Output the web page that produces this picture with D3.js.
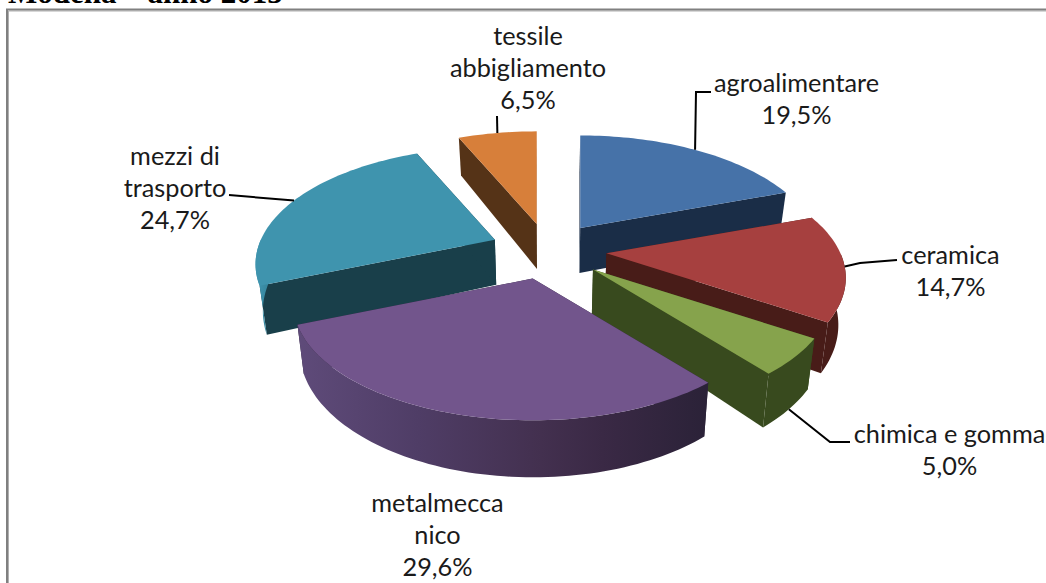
<!DOCTYPE html>
<html><head><meta charset="utf-8">
<script src="https://cdn.jsdelivr.net/npm/d3@7"></script>
<style>html,body{margin:0;padding:0;background:#fff;overflow:hidden}svg{display:block}</style>
</head><body><svg id="c" width="1046" height="583"></svg>
<script>
const categories = ["agroalimentare","ceramica","chimica e gomma","metalmeccanico","mezzi di trasporto","tessile abbigliamento"];
const shares = [19.5,14.7,5.0,29.6,24.7,6.5];
const valueLabels = ["19,5%","14,7%","5,0%","29,6%","24,7%","6,5%"];
const labelLines = [["agroalimentare"],["ceramica"],["chimica e gomma"],["metalmecca","nico"],["mezzi di","trasporto"],["tessile","abbigliamento"]];
const topColors = ["#4672a8","#a6403f","#86a34c","#72558c","#3f94ae","#d77f3a"];
const wallColors = ["#1a2d47","#481c18","#384a1e","#2c2238","#193f4a","#553317"];
const labelCentres = [796.5,950.5,949.5,437.5,175,528];
const labelTops = [74,246,425,494,147,27];
const leaderEnds = [[[711,92],[696,92]],[[897,260],[860,263]],[[850,442],[830,442]],null,[[229,195]],[[497,116]]];
const leaderOnWall = [false,false,true,false,false,false];

const W=1046,H=583;
const cx=548, cy=250, R=234, Ry=112, persp=0.21, explode=0.25, depth=45, conv=0.975;
const svg=d3.select("#c");

// projection of a disc point (unit radius) into the tilted view
const proj=(u,v)=>{const f=1/(1-persp*v);return [R*u*f,Ry*v*f,f];};
const pie=d3.pie().sort(null).value(d=>d).startAngle(0).endAngle(2*Math.PI);
const arcs=pie(shares);
const rimPt=(a,apex)=>{const u=Math.sin(a),v=-Math.cos(a),p=proj(u,v);return [apex[0]+p[0],apex[1]+p[1],p[2],v];};
const down=p=>[cx+(p[0]-cx)*conv, p[1]+depth*p[2]];

const slices=arcs.map((d,i)=>{
  const mid=(d.startAngle+d.endAngle)/2;
  const e=proj(explode*Math.sin(mid),explode*-Math.cos(mid));
  const apex=[cx+e[0],cy+e[1],1];
  const n=Math.max(8,Math.round((d.endAngle-d.startAngle)*40));
  const rim=d3.range(n+1).map(k=>rimPt(d.startAngle+(d.endAngle-d.startAngle)*k/n,apex));
  return {i,mid,apex,rim,anchor:rimPt(mid,apex)};
});

const line=d3.line();
const defs=svg.append("defs");
const purple=defs.append("linearGradient").attr("id","purpleWall").attr("gradientUnits","userSpaceOnUse")
  .attr("x1",295).attr("x2",705).attr("y1",0).attr("y2",0);
[[0,"#5f4b7a"],[.3,"#4f3d66"],[.6,"#43304f"],[.75,"#3a2945"],[1,"#2b2238"]].forEach(s=>purple.append("stop").attr("offset",s[0]).attr("stop-color",s[1]));
const teal=defs.append("linearGradient").attr("id","tealWall").attr("gradientUnits","userSpaceOnUse")
  .attr("x1",258).attr("x2",275).attr("y1",0).attr("y2",0);
[[0,"#3f94ae"],[1,"#2f7a90"]].forEach(s=>teal.append("stop").attr("offset",s[0]).attr("stop-color",s[1]));
const rimFill=i=>i===3?"url(#purpleWall)":i===4?"url(#tealWall)":wallColors[i];

const g=svg.append("g");
[5,0,4,1,2,3].forEach(i=>{
  const s=slices[i], sg=g.append("g");
  const aLow=down([s.apex[0],s.apex[1],1]);
  const first=s.rim[0], last=s.rim[s.rim.length-1];
  [first,last].forEach(w=>{
    sg.append("path").attr("d",line([[s.apex[0],s.apex[1]],[w[0],w[1]],down(w),aLow])+"Z").attr("fill",wallColors[i]);
  });
  const near=s.rim.filter(p=>p[3]>-0.02);
  if(near.length>1){
    sg.append("path").attr("d",line([...near.map(p=>[p[0],p[1]]),...near.map(down).reverse()])+"Z").attr("fill",rimFill(i));
  }
  sg.append("path").attr("d",line([[s.apex[0],s.apex[1]],...s.rim.map(p=>[p[0],p[1]])])+"Z").attr("fill",topColors[i]);
});

// leader lines
slices.forEach((s,i)=>{
  if(!leaderEnds[i])return;
  const a=leaderOnWall[i]?down(s.anchor):s.anchor;
  svg.append("path").attr("d",line([...leaderEnds[i],[a[0],a[1]]])).attr("fill","none").attr("stroke","#000").attr("stroke-width",2);
});

// labels
const fs=25.3, lh=32;
slices.forEach((s,i)=>{
  const t=svg.append("text").attr("font-family","Lato, Carlito, sans-serif").attr("font-size",fs).attr("fill","#1a1a1a").attr("text-anchor","middle");
  const rows=[...labelLines[i],valueLabels[i]];
  rows.forEach((r,k)=>t.append("tspan").attr("x",labelCentres[i]).attr("y",labelTops[i]+k*lh+18).text(r));
});

// frame
svg.append("path").attr("d","M7.5,583V10.5H1046").attr("fill","none").attr("stroke","#b0b0b0").attr("stroke-width",1).attr("transform","translate(1,0.5)");
svg.append("path").attr("d","M7,583V9.5H1046").attr("fill","none").attr("stroke","#808080").attr("stroke-width",2);
// caption, cut by the top edge as in the source picture
svg.append("text").attr("x",8).attr("y",3).attr("font-family","Liberation Serif, serif").attr("font-weight","bold").attr("font-size",31).attr("fill","#000").text("Modena – anno 2013");
</script></body></html>
